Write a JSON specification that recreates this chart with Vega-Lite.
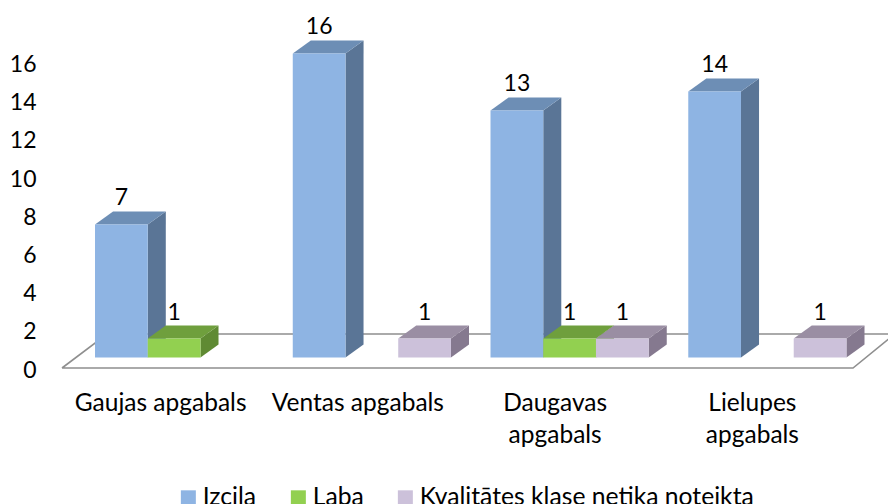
{
"$schema":"https://vega.github.io/schema/vega-lite/v6.json",
"width":848,"height":380,
"autosize":"none",
"padding":{"left":40,"top":0,"right":0,"bottom":124},
"background":"white",
"config":{"view":{"stroke":null},"font":"Lato"},
"data":{"values":[
{"apgabals":"Gaujas apgabals","klase":"Izcila","skaits":7},
{"apgabals":"Gaujas apgabals","klase":"Laba","skaits":1},
{"apgabals":"Ventas apgabals","klase":"Izcila","skaits":16},
{"apgabals":"Ventas apgabals","klase":"Kvalitātes klase netika noteikta","skaits":1},
{"apgabals":"Daugavas apgabals","klase":"Izcila","skaits":13},
{"apgabals":"Daugavas apgabals","klase":"Laba","skaits":1},
{"apgabals":"Daugavas apgabals","klase":"Kvalitātes klase netika noteikta","skaits":1},
{"apgabals":"Lielupes apgabals","klase":"Izcila","skaits":14},
{"apgabals":"Lielupes apgabals","klase":"Kvalitātes klase netika noteikta","skaits":1}
]},
"transform":[
{"calculate":"indexof(['Gaujas apgabals','Ventas apgabals','Daugavas apgabals','Lielupes apgabals'],datum.apgabals)*0.9975+0.1665+0.266*indexof(['Izcila','Laba','Kvalitātes klase netika noteikta'],datum.klase)","as":"x0"},
{"calculate":"datum.x0+0.266","as":"x1"},
{"calculate":"datum.skaits*0.995+0.55","as":"v"},
{"calculate":"0.55","as":"b"},
{"calculate":"datum.apgabals+datum.klase","as":"stabs"}
],
"layer":[
{"data":{"values":[{"n":1,"px":0,"py":0},{"n":2,"px":3.99,"py":0},{"n":3,"px":4.2,"py":1.78},{"n":4,"px":0.227,"py":1.78},{"n":5,"px":0,"py":0}]},
"mark":{"type":"line","color":"#8f8f8f","strokeWidth":1.6,"clip":false},
"encoding":{
"x":{"field":"px","type":"quantitative","scale":{"domain":[-0.111,4.1665],"nice":false,"zero":false},
"axis":{"title":null,"domain":false,"ticks":false,"grid":false,"values":[0.495,1.49,2.485,3.48],"labelFontSize":24.5,"labelColor":"#000","labelPadding":11,"labelBaseline":"top","labelLineHeight":32,"labelOverlap":false,"labelExpr":"[['Gaujas apgabals'],['Ventas apgabals'],['Daugavas','apgabals'],['Lielupes','apgabals']][floor(datum.value)]"}},
"y":{"field":"py","type":"quantitative","scale":{"domain":[-0.628,19.267],"nice":false,"zero":false},
"axis":{"title":null,"domain":false,"ticks":false,"grid":false,"values":[0,2,4,6,8,10,12,14,16],"labelFontSize":23,"labelColor":"#000","labelPadding":4,"labelOffset":2}},
"order":{"field":"n"}}},
{"transform":[{"calculate":"[0,1]","as":"k"},{"flatten":["k"]},
{"calculate":"datum.x1+datum.k*0.091","as":"sx"},
{"calculate":"datum.v+datum.k*0.68","as":"sy"},
{"calculate":"datum.b+datum.k*0.68","as":"sy2"}],
"mark":{"type":"area","opacity":1,"line":false},
"encoding":{
"x":{"field":"sx","type":"quantitative"},
"y":{"field":"sy","type":"quantitative","stack":null},
"y2":{"field":"sy2"},
"detail":{"field":"stabs"},
"color":{"field":"klase","type":"nominal","legend":null,"scale":{"domain":["Izcila","Laba","Kvalitātes klase netika noteikta"],"range":["#5A7596","#5F8A33","#85798F"]}}}},
{"transform":[{"calculate":"[0,1,2,3]","as":"k"},{"flatten":["k"]},
{"calculate":"[datum.x0,datum.x0+0.091,datum.x1,datum.x1+0.091][datum.k]","as":"tx"},
{"calculate":"datum.k==0?datum.v:datum.v+0.68","as":"ty"},
{"calculate":"datum.k==3?datum.v+0.68:datum.v","as":"ty2"}],
"mark":{"type":"area","opacity":1,"line":false},
"encoding":{
"x":{"field":"tx","type":"quantitative"},
"y":{"field":"ty","type":"quantitative","stack":null},
"y2":{"field":"ty2"},
"detail":{"field":"stabs"},
"color":{"field":"klase","type":"nominal","legend":null,"scale":{"domain":["Izcila","Laba","Kvalitātes klase netika noteikta"],"range":["#6D8EB5","#6F9F3D","#9A8EA3"]}}}},
{"mark":{"type":"rect"},
"encoding":{
"x":{"field":"x0","type":"quantitative"},
"x2":{"field":"x1"},
"y":{"field":"v","type":"quantitative"},
"y2":{"field":"b"},
"color":{"field":"klase","type":"nominal","scale":{"domain":["Izcila","Laba","Kvalitātes klase netika noteikta"],"range":["#8EB4E3","#92D050","#CCC1DA"]},
"legend":{"title":null,"orient":"none","direction":"horizontal","legendX":136,"legendY":485,"symbolType":"square","symbolSize":225,"symbolStrokeWidth":0,"labelFontSize":24.7,"labelColor":"#000","columnPadding":29,"labelOffset":2,"labelLimit":400}}}},
{"transform":[{"calculate":"(datum.x0+datum.x1)/2","as":"cx"},{"calculate":"datum.v+0.68","as":"ty"}],
"mark":{"type":"text","fontSize":23,"color":"#000","baseline":"bottom","dy":-1},
"encoding":{
"x":{"field":"cx","type":"quantitative"},
"y":{"field":"ty","type":"quantitative"},
"text":{"field":"skaits","type":"quantitative"}}}
],
"resolve":{"scale":{"color":"independent"}}
}
